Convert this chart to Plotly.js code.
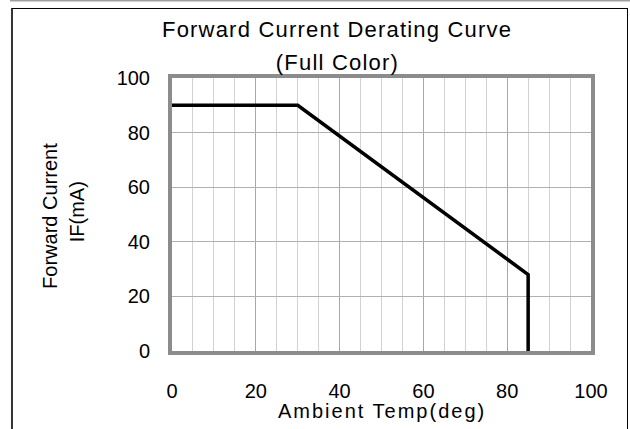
<!DOCTYPE html>
<html>
<head>
<meta charset="utf-8">
<script src="https://cdn.plot.ly/plotly-3.0.1.min.js"></script>
<style>
html,body{margin:0;padding:0;background:#fff;}
#chart{width:630px;height:429px;}
</style>
</head>
<body>
<div id="chart"></div>
<script>
// Data
var temperature = [0, 30, 85, 85];
var forwardCurrent = [90, 90, 28, 0];
var xTicks = [0, 20, 40, 60, 80, 100];
var yTicks = [0, 20, 40, 60, 80, 100];
var titleLine1 = 'Forward Current Derating Curve';
var titleLine2 = '(Full Color)';
var xTitle = 'Ambient Temp(deg)';
var yTitleLine1 = 'Forward Current';
var yTitleLine2 = 'IF(mA)';

var FONT = '"Liberation Sans", Arial, sans-serif';

var trace = {
  x: temperature,
  y: forwardCurrent,
  type: 'scatter',
  mode: 'lines',
  line: {color: '#000000', width: 3.5},
  hoverinfo: 'skip',
  showlegend: false
};

var layout = {
  width: 630,
  height: 429,
  margin: {l: 172, r: 39, t: 78, b: 78, autoexpand: false},
  paper_bgcolor: '#ffffff',
  plot_bgcolor: '#ffffff',
  font: {family: FONT, size: 20, color: '#000000'},
  showlegend: false,
  xaxis: {
    range: [0, 100],
    tickvals: xTicks,
    ticktext: xTicks.map(String),
    ticks: '',
    ticklabelstandoff: 19,
    showline: true,
    linecolor: '#8c8c8c',
    linewidth: 4,
    mirror: true,
    zeroline: false,
    showgrid: true,
    gridcolor: '#a8a8a8',
    gridwidth: 1,
    minor: {dtick: 5, showgrid: true, gridcolor: '#d2d2d2', gridwidth: 1},
    tickfont: {family: FONT, size: 20, color: '#000000'},
    fixedrange: true
  },
  yaxis: {
    range: [0, 100],
    tickvals: yTicks,
    ticktext: yTicks.map(String),
    ticks: '',
    ticklabelstandoff: 14,
    showline: true,
    linecolor: '#8c8c8c',
    linewidth: 4,
    mirror: true,
    zeroline: false,
    showgrid: true,
    gridcolor: '#b0b0b0',
    gridwidth: 1,
    tickfont: {family: FONT, size: 20, color: '#000000'},
    fixedrange: true
  },
  annotations: [
    {text: titleLine1, xref: 'paper', yref: 'paper', x: 0.3938, y: 1.177, xanchor: 'center', yanchor: 'middle', showarrow: false, font: {family: FONT, size: 22, color: '#000'}},
    {text: titleLine2, xref: 'paper', yref: 'paper', x: 0.3938, y: 1.057, xanchor: 'center', yanchor: 'middle', showarrow: false, font: {family: FONT, size: 22, color: '#000'}},
    {text: xTitle, xref: 'paper', yref: 'paper', x: 0.5, y: -0.2198, xanchor: 'center', yanchor: 'middle', showarrow: false, font: {family: FONT, size: 20, color: '#000'}},
    {text: yTitleLine1, xref: 'paper', yref: 'paper', x: -0.2912, y: 0.4949, xanchor: 'center', yanchor: 'middle', textangle: -90, showarrow: false, font: {family: FONT, size: 20, color: '#000'}},
    {text: yTitleLine2, xref: 'paper', yref: 'paper', x: -0.2279, y: 0.51, xanchor: 'center', yanchor: 'middle', textangle: -90, showarrow: false, font: {family: FONT, size: 20, color: '#000'}}
  ],
  shapes: [
    // gray top line
    {type: 'line', xref: 'paper', yref: 'paper', x0: -0.3866, x1: 1.0931, y0: 1.2839, y1: 1.2839, line: {color: '#a0a0a0', width: 2}},
    // outer frame
    {type: 'line', xref: 'paper', yref: 'paper', x0: -0.3819, x1: -0.3819, y0: 1.2564, y1: -0.2894, line: {color: '#333333', width: 2}},
    {type: 'line', xref: 'paper', yref: 'paper', x0: -0.3819, x1: 1.0871, y0: 1.2546, y1: 1.2546, line: {color: '#000000', width: 1}},
    {type: 'line', xref: 'paper', yref: 'paper', x0: 1.0871, x1: 1.0871, y0: 1.2564, y1: -0.2894, line: {color: '#000000', width: 1}}
  ]
};

Plotly.newPlot('chart', [trace], layout, {staticPlot: true, displayModeBar: false}).then(function(){
  var txt = document.querySelectorAll('.annotation-text-g text');
  txt.forEach(function(t){
    var s = t.textContent;
    if (s === titleLine1 || s === titleLine2) t.style.letterSpacing = '1.2px';
    if (s === xTitle) t.style.letterSpacing = '2px';
  });
});
</script>
</body>
</html>
